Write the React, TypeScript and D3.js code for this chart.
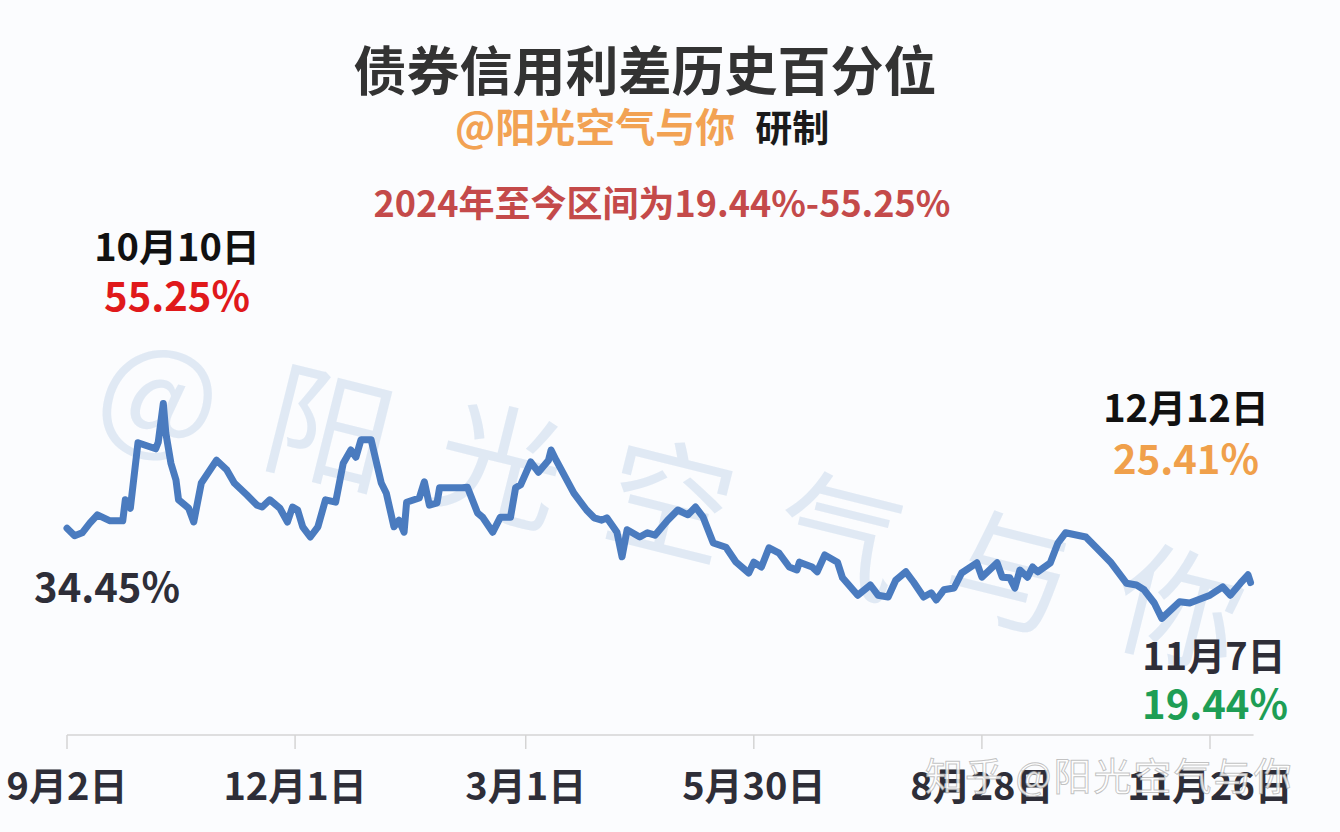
import React from "react";
import * as d3 from "d3";

// Day offsets counted from 2023-09-02, and the percentile value at each
const startDate = new Date(2023, 8, 2);
const dayOffsets = [
  0, 3, 6, 9, 12, 17, 22, 23, 25, 28, 35, 36, 38, 39, 41, 43, 44, 48, 50, 53,
  59, 63, 66, 71, 75, 77, 80, 84, 87, 89, 91, 93, 96, 99, 102, 106, 109, 112, 114, 116,
  120, 124, 126, 129, 131, 133, 134, 139, 141, 143, 146, 147, 156, 158, 162, 164, 168, 171, 175, 177,
  179, 183, 186, 190, 191, 193, 200, 205, 208, 211, 213, 217, 219, 221, 226, 229, 232, 237, 241, 245,
  248, 251, 255, 260, 264, 269, 271, 274, 277, 281, 285, 288, 289, 294, 296, 299, 304, 306, 312, 317,
  320, 324, 327, 331, 334, 338, 341, 343, 346, 350, 353, 359, 361, 367, 369, 372, 374, 376, 379, 381,
  383, 388, 391, 394, 402, 406, 412, 418, 422, 425, 429, 432, 439, 443, 451, 456, 459, 463, 466, 467,
];
const values = [
  34.45, 33.2, 33.7, 35.3, 36.7, 35.7, 35.7, 39.2, 37.8, 48.7, 47.7, 48.8, 55.25, 50.3, 45.3, 42.5, 39.2, 37.8, 35.5, 42.0,
  45.8, 44.2, 42.0, 40.0, 38.3, 38.0, 39.2, 37.8, 35.5, 38.0, 37.5, 34.7, 33.0, 34.7, 39.2, 38.8, 45.3, 47.5, 46.3, 49.2,
  49.2, 42.0, 40.3, 34.7, 35.8, 33.8, 38.8, 39.5, 42.2, 38.3, 38.7, 41.2, 41.2, 41.3, 37.0, 36.3, 33.8, 36.3, 36.3, 41.2,
  41.7, 45.5, 43.8, 45.8, 47.5, 45.8, 40.3, 37.5, 36.2, 35.8, 36.2, 33.8, 29.7, 34.2, 33.0, 33.7, 33.3, 35.8, 37.5, 36.7,
  38.0, 36.3, 32.0, 31.3, 28.8, 27.0, 28.8, 28.0, 31.2, 30.3, 28.0, 27.5, 28.8, 28.0, 27.2, 30.0, 28.8, 26.2, 23.3, 25.0,
  23.3, 23.0, 25.8, 27.2, 25.5, 23.0, 23.7, 22.5, 24.2, 24.5, 27.0, 28.7, 26.3, 28.7, 26.3, 26.2, 24.5, 27.5, 26.3, 28.0,
  27.2, 28.7, 32.0, 33.7, 33.0, 31.3, 28.7, 25.3, 25.0, 24.2, 22.0, 19.44, 22.2, 22.0, 23.3, 24.7, 23.3, 25.3, 26.7, 25.41,
];
const tickDates = [
  new Date(2023, 8, 2),
  new Date(2023, 11, 1),
  new Date(2024, 2, 1),
  new Date(2024, 4, 30),
  new Date(2024, 7, 28),
  new Date(2024, 10, 26),
];
const tickLabels = ["9月2日", "12月1日", "3月1日", "5月30日", "8月28日", "11月26日"];
const watermarkChars = ["@", "阳", "光", "空", "气", "与", "你"];

const title = "债券信用利差历史百分位";
const author = "@阳光空气与你";
const made = "研制";
const rangeNote = "2024年至今区间为19.44%-55.25%";

const W = 1340;
const H = 832;
const FONT = "'Noto Sans CJK SC', 'Noto Sans', sans-serif";

export default function App() {
  const x = d3
    .scaleTime()
    .domain([tickDates[0], tickDates[tickDates.length - 1]])
    .range([67, 1210]);
  const y = d3.scaleLinear().domain([0, 100]).range([735, 135]);

  const pts = dayOffsets.map((d, i) => ({
    date: d3.timeDay.offset(startDate, d),
    v: values[i],
  }));
  const line = d3
    .line<{ date: Date; v: number }>()
    .x((d) => x(d.date))
    .y((d) => y(d.v));

  const lastDate = pts[pts.length - 1].date;
  const axisEnd = x(lastDate) + 3;

  // watermark positions along a slanted line
  const wmStart = [162, 385];
  const wmEnd = [1182, 600];

  return (
    <div style={{ position: "absolute", left: 0, top: 0, width: W, height: H }}>
      <svg width={W} height={H} style={{ display: "block" }}>
        <rect width={W} height={H} fill="#fbfcfe" />
        {/* big watermark */}
        <g fontFamily={FONT} fontSize={126} fill="#dde7f3" fillOpacity={0.9}>
          {watermarkChars.map((c, i) => {
            const t = i / (watermarkChars.length - 1);
            const cx = wmStart[0] + (wmEnd[0] - wmStart[0]) * t;
            const cy = wmStart[1] + (wmEnd[1] - wmStart[1]) * t;
            return (
              <text
                key={i}
                x={cx}
                y={cy}
                textAnchor="middle"
                dominantBaseline="central"
                transform={`rotate(14 ${cx} ${cy})`}
              >
                {c}
              </text>
            );
          })}
        </g>

        {/* titles */}
        <text x={645} y={91} textAnchor="middle" fontFamily={FONT} fontWeight={700} fontSize={53} fill="#333333">
          {title}
        </text>
        <text x={455} y={142} fontFamily={FONT} fontWeight={700} fontSize={40} fill="#f2a253">
          {author}
          <tspan dx={20} fill="#1a1a1a" fontSize={37}>{made}</tspan>
        </text>
        <text x={662} y={217} textAnchor="middle" fontFamily={FONT} fontWeight={700} fontSize={36} fill="#c44a4a">
          {rangeNote}
        </text>

        {/* axis */}
        <line x1={67} x2={axisEnd} y1={735} y2={735} stroke="#d4d4d4" strokeWidth={1.5} />
        {tickDates.map((d, i) => (
          <g key={i}>
            <line x1={x(d)} x2={x(d)} y1={735} y2={749} stroke="#d4d4d4" strokeWidth={1.5} />
            <text
              x={x(d)}
              y={800}
              textAnchor="middle"
              fontFamily={FONT}
              fontWeight={700}
              fontSize={38}
              fill="#2e2e38"
            >
              {tickLabels[i]}
            </text>
          </g>
        ))}

        {/* line */}
        <path
          d={line(pts) || ""}
          fill="none"
          stroke="#4a7bbf"
          strokeWidth={7}
          strokeLinejoin="round"
          strokeLinecap="round"
        />

        {/* annotations */}
        <g fontFamily={FONT} fontWeight={700} textAnchor="middle">
          <text x={177} y={261} fontSize={38} fill="#111">10月10日</text>
          <text x={177} y={311} fontSize={40} fill="#e0191b">55.25%</text>
          <text x={107} y={602} fontSize={40} fill="#2e2e38">34.45%</text>
          <text x={1186} y={422} fontSize={38} fill="#111">12月12日</text>
          <text x={1186} y={474} fontSize={40} fill="#f0a04b">25.41%</text>
          <text x={1214} y={670} fontSize={38} fill="#2e2e38">11月7日</text>
          <text x={1215} y={719} fontSize={40} fill="#1e9e55">19.44%</text>
        </g>

        {/* bottom watermark */}
        <text
          x={925}
          y={790}
          fontFamily={FONT}
          fontSize={38}
          letterSpacing={2}
          fill="#ffffff"
          fillOpacity={0.85}
          stroke="#9a9a9a"
          strokeOpacity={0.6}
          strokeWidth={1}
        >
          知乎 @阳光空气与你
        </text>
      </svg>
    </div>
  );
}
